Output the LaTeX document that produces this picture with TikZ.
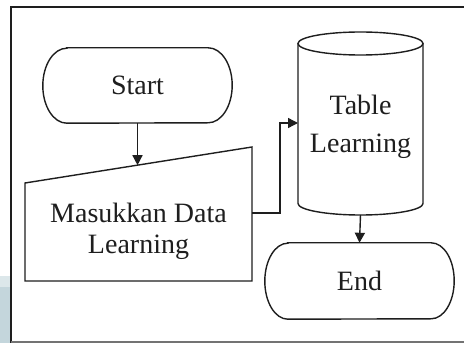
\documentclass[tikz,border=0pt]{standalone}
\usepackage{fontspec}
\setmainfont{Liberation Serif}
\usetikzlibrary{arrows.meta}
\definecolor{inkline}{HTML}{1E1E1E}
\definecolor{stripdark}{HTML}{C4D6DC}
\definecolor{striplight}{HTML}{DCE7EA}
\begin{document}
\begin{tikzpicture}[x=1pt,y=1pt,
  shapeline/.style={draw=inkline, line width=1.4pt},
  flow/.style={draw=inkline, line width=1.4pt, -{Triangle[width=10pt,length=10pt]}},
  boxtext/.style={font=\fontsize{28}{31}\selectfont, align=center, inner sep=0pt, text=inkline},
]
\useasboundingbox (0,0) rectangle (464,343);
\fill[white] (0,0) rectangle (464,343);

% strip on the left edge
\fill[stripdark] (0,0) rectangle (10,56);
\fill[striplight] (0,56) rectangle (10,67);

% frame
\draw[line width=2pt, inkline] (10.5,0) -- (10.5,336) -- (464,336);
\draw[line width=1.5pt, black!55] (10.5,1) -- (464,1);

% Start terminator
\node[boxtext, minimum width=189pt, minimum height=75pt] (start) at (137.5,257.5) {Start};
\draw[shapeline] ([xshift=24pt]start.north west) -- ([xshift=-24pt]start.north east)
  arc[start angle=90, end angle=-90, x radius=24pt, y radius=37.5pt]
  -- ([xshift=24pt]start.south west)
  arc[start angle=270, end angle=90, x radius=24pt, y radius=37.5pt] -- cycle;

% manual input
\node[boxtext] (inp) at (138.5,112) {Masukkan Data\\Learning};
\draw[shapeline] (25,62) -- (25,160) -- (252,196) -- (252,62) -- cycle;
\coordinate (inpTop) at (137.5,177.8);
\coordinate (inpE) at (252,130);

% stored data (cylinder)
\node[boxtext, font=\fontsize{28}{38}\selectfont] (tbl) at (360.5,216.5) {Table\\Learning};
\draw[shapeline] (360.5,299.5) ellipse[x radius=62.5pt, y radius=11.5pt];
\draw[shapeline] (298,299.5) -- (298,139.5)
  arc[start angle=180, end angle=360, x radius=62.5pt, y radius=11.5pt] -- (423,299.5);
\coordinate (tblW) at (298,220);
\coordinate (tblS) at (360.5,128);

% End terminator
\node[boxtext, minimum width=189pt, minimum height=76pt] (end) at (359.5,62) {End};
\draw[shapeline] ([xshift=23pt]end.north west) -- ([xshift=-23pt]end.north east)
  arc[start angle=90, end angle=-90, x radius=23pt, y radius=38pt]
  -- ([xshift=23pt]end.south west)
  arc[start angle=270, end angle=90, x radius=23pt, y radius=38pt] -- cycle;

% connectors
\draw[flow] (start.south) -- (inpTop);
\draw[flow] (inpE) -- ++(28,0) |- (tblW);
\draw[flow] (tblS) -- (end.north);
\end{tikzpicture}
\end{document}
